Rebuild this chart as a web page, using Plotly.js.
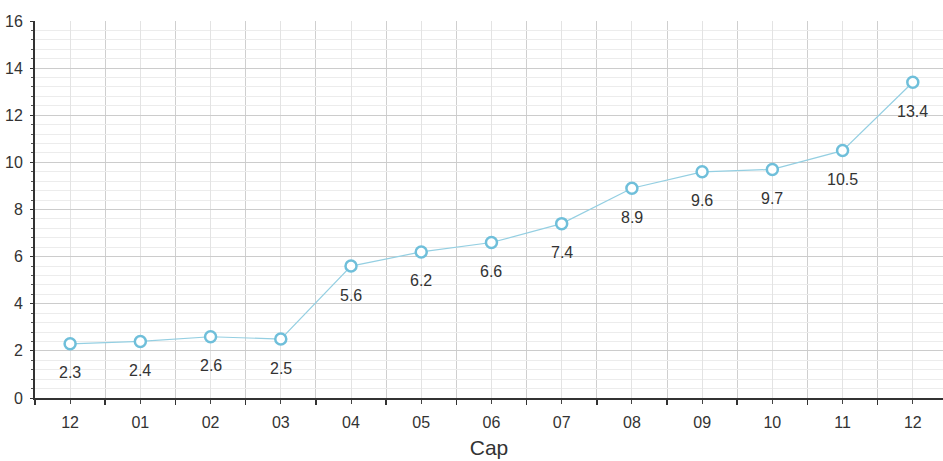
<!DOCTYPE html>
<html><head><meta charset="utf-8">
<script src="https://cdn.plot.ly/plotly-3.0.1.min.js"></script>
<style>html,body{margin:0;padding:0;background:#fff}#chart{width:943px;height:461px}</style>
</head><body><div id="chart"></div>
<script>
var categories = ["12","01","02","03","04","05","06","07","08","09","10","11","12"];
var values = [2.3, 2.4, 2.6, 2.5, 5.6, 6.2, 6.6, 7.4, 8.9, 9.6, 9.7, 10.5, 13.4];
var labels = ["2.3","2.4","2.6","2.5","5.6","6.2","6.6","7.4","8.9","9.6","9.7","10.5","13.4"];
var xIdx = categories.map(function(_, i){ return i; });

var trace = {
  x: xIdx, y: values, type: 'scatter', mode: 'lines+markers',
  line: {color: '#94cfe2', width: 1.2},
  marker: {symbol: 'circle', size: 11, color: '#ffffff', line: {color: '#6fbfda', width: 2.5}},
  hoverinfo: 'skip'
};
var annotations = xIdx.map(function(i){
  return {x: i, y: values[i], text: labels[i], showarrow: false, yshift: -29,
    font: {family: 'Liberation Sans, Arial, sans-serif', size: 16, color: '#333'}};
});
var layout = {
  width: 943, height: 461,
  margin: {l: 35, r: 0, t: 21, b: 63},
  paper_bgcolor: '#fff', plot_bgcolor: '#fff',
  showlegend: false,
  font: {family: 'Liberation Sans, Arial, sans-serif', size: 16, color: '#333'},
  xaxis: {
    range: [-0.5, 12.43], tickmode: 'array', tickvals: xIdx, ticktext: categories,
    showgrid: true, gridcolor: '#e3e3e3', gridwidth: 1,
    ticks: 'outside', ticklen: 4, tickcolor: '#444', tickwidth: 1,
    ticklabelstandoff: 5,
    showline: true, linecolor: '#333', linewidth: 2,
    zeroline: false, fixedrange: true,
    minor: {tickmode: 'linear', tick0: 0.5, dtick: 1, showgrid: true, gridcolor: '#cfcfcf', gridwidth: 1,
      ticks: 'outside', ticklen: 5, tickcolor: '#333', tickwidth: 1.5},
    tickfont: {size: 16, color: '#333'},
    title: {text: 'Cap', font: {size: 21, color: '#333'}, standoff: 10}
  },
  yaxis: {
    range: [0, 16], dtick: 2, tick0: 0,
    showgrid: true, gridcolor: '#cccccc', gridwidth: 1,
    ticks: 'outside', ticklen: 3, tickcolor: '#333',
    ticklabelstandoff: 4,
    showline: true, linecolor: '#333', linewidth: 2,
    zeroline: false, fixedrange: true,
    minor: {dtick: 0.4, showgrid: true, gridcolor: '#ececec', gridwidth: 1, ticks: 'outside', ticklen: 2, tickcolor: '#555'},
    tickfont: {size: 16, color: '#333'}
  },
  annotations: annotations
};
Plotly.newPlot('chart', [trace], layout, {displayModeBar: false, staticPlot: true});
</script></body></html>
